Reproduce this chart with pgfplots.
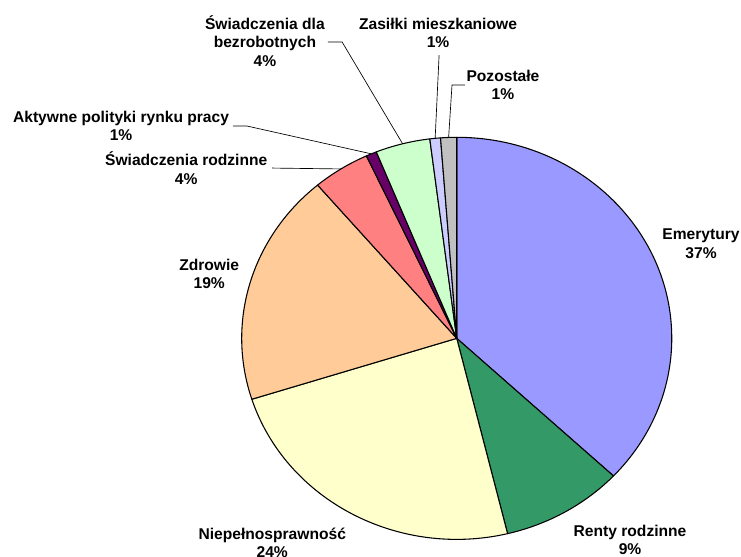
\documentclass[border=0pt]{standalone}
\usepackage{pgfplots}
\usepackage{pgfplotstable}
\pgfplotsset{compat=1.18}
\usepackage{fontspec}
\setmainfont{Liberation Sans}

\definecolor{cEme}{HTML}{9999FF}
\definecolor{cRen}{HTML}{339966}
\definecolor{cNie}{HTML}{FFFFCC}
\definecolor{cZdr}{HTML}{FFCC99}
\definecolor{cSwr}{HTML}{FF8080}
\definecolor{cAkt}{HTML}{660066}
\definecolor{cBez}{HTML}{CCFFCC}
\definecolor{cZas}{HTML}{CCCCFF}
\definecolor{cPoz}{HTML}{C0C0C0}

% share of each item (percent), clockwise from 12 o'clock; lx,ly = label centre
\pgfplotstableread[col sep=comma]{
name,value,colour,lx,ly
Emerytury,37.0,cEme,1.136,0.469
Renty rodzinne,9.2,cRen,0.806,-1.003
Niepełnosprawność,23.9,cNie,-0.858,-1.018
Zdrowie,18.7,cZdr,-1.151,0.320
Świadczenia rodzinne,4.3,cSwr,-1.258,0.847
Aktywne polityki rynku pracy,0.8,cAkt,-1.561,1.056
{Świadczenia dla\\bezrobotnych},4.1,cBez,-0.892,1.479
Zasiłki mieszkaniowe,0.8,cZas,-0.087,1.519
Pozostałe,1.2,cPoz,0.215,1.260
}\piedata

\newcommand\rx{161.25pt}
\newcommand\ry{150.75pt}

\begin{document}
\begin{tikzpicture}
\begin{axis}[
    x=\rx, y=\ry,
    xmin=-2.124, xmax=1.322,
    ymin=-1.083, ymax=1.683,
    hide axis, clip=false,
  ]
\pgfplotsextra{
  \pgfplotstablegetrowsof{\piedata}
  \pgfmathtruncatemacro\nrows{\pgfplotsretval-1}
  \gdef\cum{0}
  \foreach \i in {0,...,\nrows}{
    \pgfplotstablegetelem{\i}{value}\of\piedata \let\val\pgfplotsretval
    \pgfplotstablegetelem{\i}{colour}\of\piedata \let\col\pgfplotsretval
    \pgfmathsetmacro\a{90-3.6*\cum}
    \pgfmathsetmacro\b{\a-3.6*\val}
    \pgfmathsetmacro\m{(\a+\b)/2}
    \pgfmathsetmacro\ca{cos(\a)}
    \pgfmathsetmacro\sa{sin(\a)}
    \pgfmathsetmacro\cm{cos(\m)}
    \pgfmathsetmacro\sm{sin(\m)}
    \fill[fill=\col, draw=black, line width=0.8pt, line join=round]
      (axis cs:0,0) -- (axis cs:\ca,\sa)
      arc[start angle=\a, end angle=\b, x radius=\rx, y radius=\ry] -- cycle;
    \coordinate (m\i) at (axis cs:\cm,\sm);
    \pgfmathsetmacro\newcum{\cum+\val}\global\let\cum\newcum
  }
  % leader lines
  \draw[line width=0.5pt] (axis cs:-0.859,0.847) -- (m4);
  \draw[line width=0.5pt] (axis cs:-1.040,1.056) -- (axis cs:-0.975,1.056) -- (m5);
  \draw[line width=0.5pt] (axis cs:-0.599,1.474) -- (axis cs:-0.533,1.474) -- (m6);
  \draw[line width=0.5pt] (axis cs:-0.082,1.409) -- (m7);
  \draw[line width=0.5pt] (axis cs:0.039,1.260) -- (axis cs:-0.022,1.260) -- (m8);
  % labels
  \foreach \i in {0,...,\nrows}{
    \pgfplotstablegetelem{\i}{value}\of\piedata \let\val\pgfplotsretval
    \pgfplotstablegetelem{\i}{name}\of\piedata \let\nm\pgfplotsretval
    \pgfplotstablegetelem{\i}{lx}\of\piedata \let\lx\pgfplotsretval
    \pgfplotstablegetelem{\i}{ly}\of\piedata \let\ly\pgfplotsretval
    \pgfmathtruncatemacro\pct{round(\val)}
    \node[align=center, inner sep=0pt,
          font=\fontsize{11.7}{14}\selectfont\bfseries]
      at (axis cs:\lx,\ly) {\nm\\\pct\%};
  }
}
\end{axis}
\pgfresetboundingbox
\path[use as bounding box] (current axis.south west) rectangle (current axis.north east);
\end{tikzpicture}
\end{document}
